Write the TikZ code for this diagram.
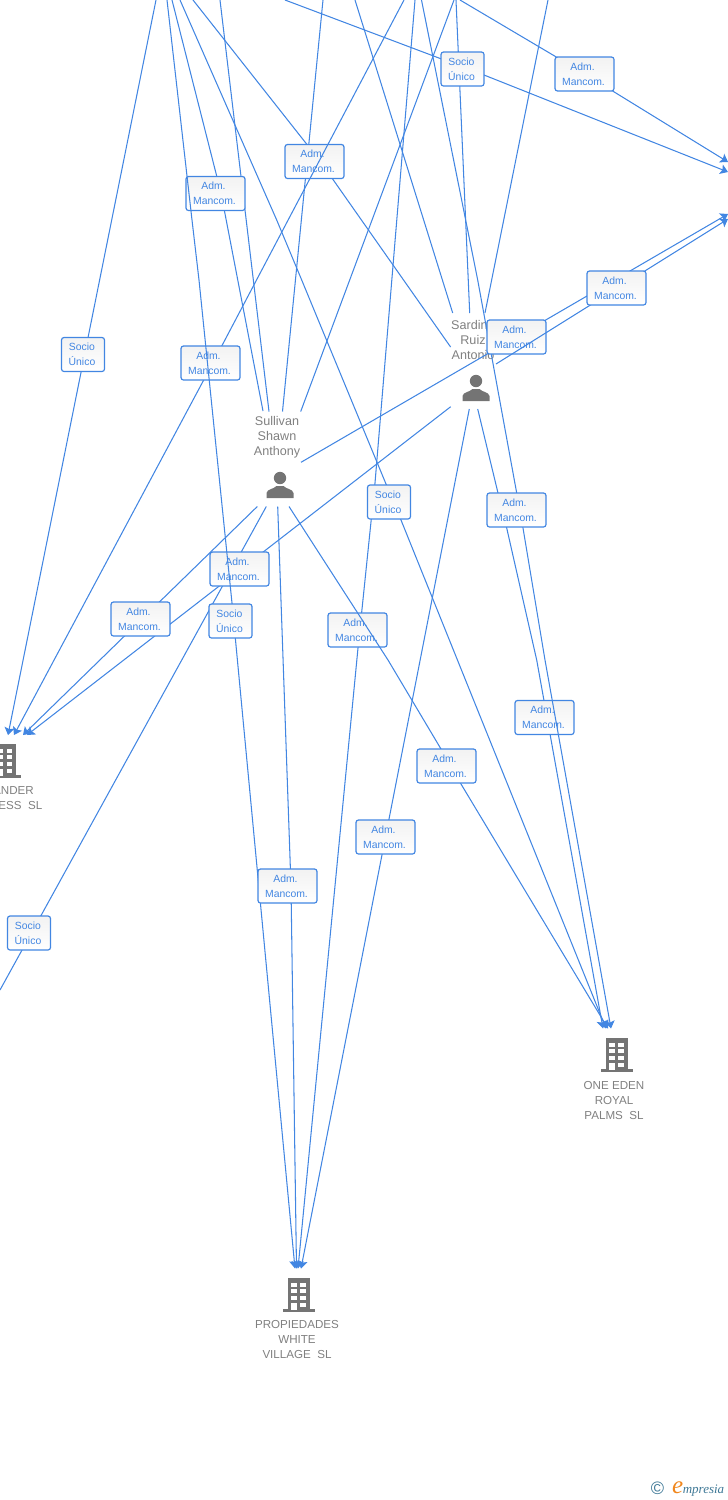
\documentclass[tikz,border=0pt]{standalone}
\usepackage{fontspec}
\setmainfont{Liberation Sans}
\newfontfamily\logofont{Liberation Serif}
\usetikzlibrary{arrows.meta}
\definecolor{ln}{RGB}{66,134,226}
\definecolor{gr}{RGB}{128,128,128}
\definecolor{ic}{RGB}{116,116,116}
\definecolor{logoblue}{RGB}{62,120,150}
\definecolor{logoorange}{RGB}{240,135,30}
\newcommand{\admtxt}{Adm.\kern4pt\\Mancom.\kern2pt}
\newcommand{\soctxt}{Socio\kern2pt\\Único\kern2pt}
\tikzset{
  conn/.style={draw=ln,line width=1.05pt},
  arr/.style={conn,-{Stealth[length=7.5pt,width=10pt,inset=1.5pt]}},
  boxbase/.style={draw=ln,line width=1.2pt,rounded corners=2.5pt,top color=black!5,bottom color=white,
    text=ln,align=center,inner sep=0pt,minimum height=34pt,font=\fontsize{10.4}{15}\selectfont},
  admbox/.style={boxbase,minimum width=59pt},
  sociobox/.style={boxbase,minimum width=43pt},
  pname/.style={text=gr,align=center,inner sep=0pt,font=\fontsize{12.6}{15}\selectfont},
  cname/.style={text=gr,align=center,inner sep=0pt,font=\fontsize{11.6}{15}\selectfont},
  building/.pic={
    \fill[ic] (-11,0) rectangle (11,32);
    \fill[ic] (-16,31) rectangle (16,34);
    \foreach \cx in {-7.5,1.5}{\foreach \cy in {4.5,11,18}{\fill[white] (\cx,\cy) rectangle ++(5.5,4);}}
    \fill[white] (-7.5,24.5) rectangle ++(5.5,7);
    \fill[white] (1.5,24.5) rectangle ++(5.5,4);
  },
  person/.pic={
    \fill[ic] (0,-13) circle (6.2);
    \fill[ic] (-13.5,7) -- (-13.5,2) .. controls (-13,-2) and (-6,-2) .. (-3.5,-5)
      -- (3.5,-5) .. controls (6,-2) and (13,-2) .. (13.5,2) -- (13.5,7) -- cycle;
  }
}
\begin{document}
\begin{tikzpicture}[x=1pt,y=-1pt]
\useasboundingbox (0,0) rectangle (728,1500);
% persons and companies
\node[pname] (sul) at (277,437) {Sullivan\\Shawn\\Anthony};
\pic at (280,491) {person};
\node[pname,anchor=west] (sarA) at (451,325) {Sardin};
\node[pname] (sarB) at (473,340) {Ruiz};
\node[pname] (sarC) at (473,355) {Antonio};
\pic at (476,394) {person};
\pic at (5,744) {building};
\node[cname,anchor=east] (anderA) at (34,790.5) {ANDER};
\node[cname,anchor=east] (anderB) at (42.5,805.5) {ESS\ \ SL};
\pic at (616.5,1038) {building};
\node[cname] (one) at (614,1100.5) {ONE EDEN\\ROYAL\\PALMS\ \ SL};
\pic at (298.5,1278) {building};
\node[cname] (pwv) at (297,1339.5) {PROPIEDADES\\WHITE\\VILLAGE\ \ SL};
% free ends
\coordinate (t1) at (156,0); \coordinate (t2) at (167,0); \coordinate (t3) at (172,0);
\coordinate (t4) at (180,0); \coordinate (t5) at (193,0); \coordinate (t6) at (220,0);
\coordinate (t7) at (323,0); \coordinate (t8) at (404,0); \coordinate (t9) at (454,0);
\coordinate (t10) at (355,0); \coordinate (t11) at (415,0); \coordinate (t12) at (421.5,0);
\coordinate (t13) at (456,0); \coordinate (t14) at (548,0); \coordinate (t15) at (285,0);
\coordinate (t16) at (460,0); \coordinate (t20) at (0,990);
% ends at the persons
\coordinate (su1) at (263,411); \coordinate (su2) at (269,411.5); \coordinate (su3) at (282.5,411.5);
\coordinate (su4) at (300.7,411.5); \coordinate (su5) at (301,462.3); \coordinate (su6) at (257.3,506.5);
\coordinate (su7) at (266.3,506.5); \coordinate (su8) at (277.7,506.5); \coordinate (su9) at (289,506.5);
\coordinate (sa1) at (450.6,347); \coordinate (sa2) at (452.7,313); \coordinate (sa3) at (469.7,313);
\coordinate (sa4) at (485,313); \coordinate (sa5) at (496,364); \coordinate (sa6) at (450.7,406.7);
\coordinate (sa7) at (469.3,409); \coordinate (sa8) at (477.7,409);
% arrow ends
\coordinate (a1) at (8,735); \coordinate (a2) at (14,735); \coordinate (a3) at (23,735); \coordinate (a4) at (27,735);
\coordinate (p1) at (295,1268.5); \coordinate (p3) at (296.5,1268.5);
\coordinate (p4) at (298,1268.5); \coordinate (p5) at (301,1268.5);
\coordinate (o1) at (603,1028.5); \coordinate (o2) at (606,1028.5); \coordinate (o3) at (608,1028.5); \coordinate (o4) at (611,1028.5);
\coordinate (r1) at (728,162); \coordinate (r2) at (728,172); \coordinate (r3) at (728,214); \coordinate (r4) at (728,219);
% edges
\draw[arr] (t1) -- (a1);
\node[sociobox] (l1) at (83,354.5) {\soctxt};
\draw[conn] (t6) -- (su2);
\draw[conn] (t7) -- (su3);
\draw[conn] (t5) -- (320,161) -- (sa1);
\node[admbox] (l2) at (314.5,161.5) {\admtxt};
\draw[conn] (t3) -- (221,193) -- (su1);
\node[admbox] (l3) at (215.5,193.5) {\admtxt};
\draw[arr] (t8) -- (212.8,363) -- (a2);
\node[admbox] (l4) at (210.5,363) {\admtxt};
\draw[conn] (t9) -- (su4);
\draw[conn] (t10) -- (sa2);
\draw[arr] (t11) -- (375,483) -- (358,648) -- (p4);
\node[admbox] (l5) at (357.5,630) {\admtxt};
\draw[arr] (t15) -- (484,75) -- (r2);
\draw[conn] (t13) -- (sa3);
\node[sociobox] (l6) at (462.5,69) {\soctxt};
\draw[arr] (t16) -- (585,74) -- (r1);
\node[admbox] (l7) at (584.5,74) {\admtxt};
\draw[conn] (t14) -- (sa4);
\draw[arr] (sa8) -- (498,493) -- (506.7,528) -- (536.7,660) -- (o1);
\node[admbox] (l9) at (544.5,717.5) {\admtxt};
\draw[arr] (t12) -- (477.7,280) -- (516.7,493) -- (523,528) -- (545,660) -- (o4);
\node[admbox] (l8) at (516.5,510) {\admtxt};
\draw[arr] (su5) -- (r3);
\node[admbox] (l10) at (516.5,337) {\admtxt};
\draw[arr] (sa5) -- (r4);
\node[admbox] (l11) at (616.5,288) {\admtxt};
\draw[arr] (t4) -- (276.7,220) -- (301.7,280) -- (386,484) -- (401,520) -- (o2);
\node[sociobox] (l12) at (389,502) {\soctxt};
\draw[conn] (su7) -- (t20);
\node[sociobox] (l13) at (29,933) {\soctxt};
\draw[arr] (sa6) -- (a4);
\node[admbox] (l14) at (239.5,569) {\admtxt};
\draw[arr] (su6) -- (a3);
\node[admbox] (l15) at (140.5,619) {\admtxt};
\draw[arr] (t2) -- (192,220) -- (199,280) -- (232,603) -- (p1);
\node[sociobox] (l16) at (230.5,621) {\soctxt};
\draw[arr] (su9) -- (388,660) -- (441,749) -- (461,784) -- (o3);
\node[admbox] (l17) at (446.5,766) {\admtxt};
\draw[arr] (sa7) -- (p5);
\node[admbox] (l18) at (385.5,837) {\admtxt};
\draw[arr] (su8) -- (291,886) -- (p3);
\node[admbox] (l19) at (287.5,886) {\admtxt};
% logo
\node[text=logoblue,inner sep=0pt,font=\fontsize{18}{18}\selectfont] (cpr) at (657.5,1488) {©};
\node[inner sep=0pt,anchor=base west,font=\logofont\itshape\fontsize{13}{15}\selectfont] (logo) at (672,1493) {\textcolor{logoorange}{\fontsize{25}{25}\selectfont e}\textcolor{logoblue}{\kern-0.5pt mpresia}};
\end{tikzpicture}
\end{document}
